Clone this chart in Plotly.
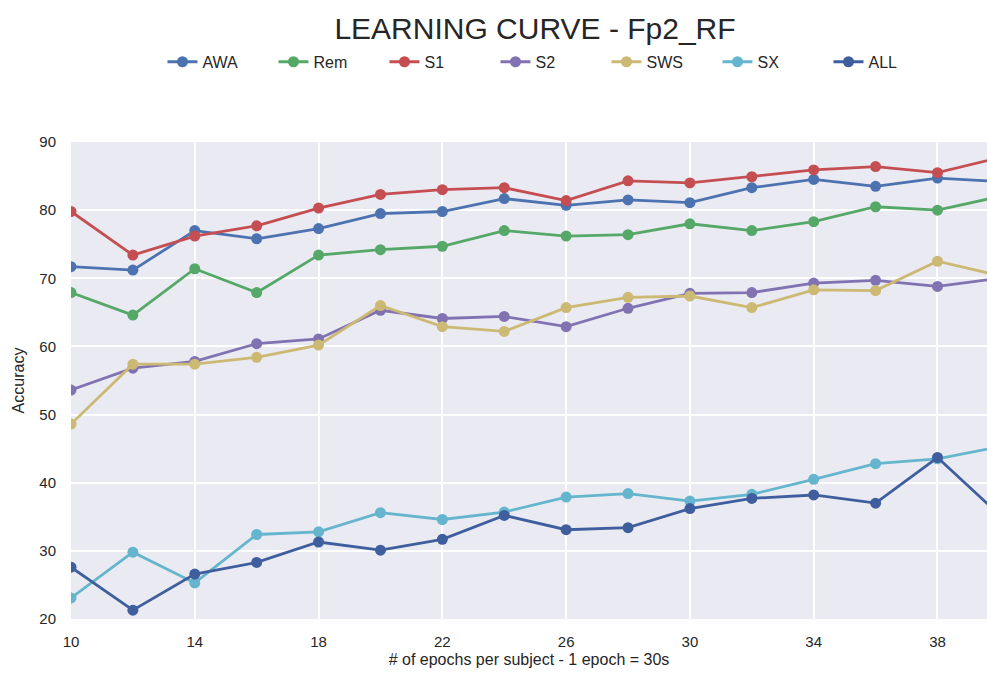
import plotly.graph_objects as go

epochs = [10, 12, 14, 16, 18, 20, 22, 24, 26, 28, 30, 32, 34, 36, 38, 40]

awa = [71.7, 71.2, 77.0, 75.8, 77.3, 79.5, 79.8, 81.7, 80.7, 81.5, 81.1, 83.3, 84.5, 83.5, 84.7, 84.2]
rem = [67.9, 64.6, 71.4, 67.9, 73.4, 74.2, 74.7, 77.0, 76.2, 76.4, 78.0, 77.0, 78.3, 80.5, 80.0, 82.0]
s1 = [79.8, 73.4, 76.2, 77.7, 80.3, 82.3, 83.0, 83.3, 81.4, 84.3, 84.0, 84.9, 85.9, 86.4, 85.5, 87.7]
s2 = [53.6, 56.8, 57.8, 60.4, 61.1, 65.3, 64.1, 64.4, 62.9, 65.6, 67.8, 67.9, 69.3, 69.7, 68.8, 70.0]
sws = [48.6, 57.4, 57.4, 58.4, 60.2, 66.0, 62.9, 62.2, 65.7, 67.2, 67.4, 65.7, 68.3, 68.2, 72.5, 70.4]
sx = [23.1, 29.8, 25.3, 32.4, 32.8, 35.6, 34.6, 35.7, 37.9, 38.4, 37.3, 38.3, 40.5, 42.8, 43.5, 45.3]
all_ = [27.6, 21.3, 26.6, 28.3, 31.3, 30.1, 31.7, 35.2, 33.1, 33.4, 36.2, 37.7, 38.2, 37.0, 43.7, 35.3]

series_names = ["AWA", "Rem", "S1", "S2", "SWS", "SX", "ALL"]
series_values = [awa, rem, s1, s2, sws, sx, all_]
colors = ["#4C72B0", "#55A868", "#C44E52", "#8172B2", "#CCB974", "#64B5CD", "#3F5E9E"]

regular = "Liberation Sans, Arial, sans-serif"
txt = "#262626"

fig = go.Figure()
for name, vals, col in zip(series_names, series_values, colors):
    fig.add_trace(go.Scatter(
        x=epochs, y=vals, name=name, mode="lines+markers",
        line=dict(color=col, width=2.8),
        marker=dict(color=col, size=11),
    ))

fig.update_layout(
    width=987, height=676,
    margin=dict(l=71, r=0, t=142, b=57),
    paper_bgcolor="white",
    plot_bgcolor="#EAEAF2",
    title=dict(text="LEARNING CURVE - Fp2_RF", x=535 / 987, xref="container", y=1 - 28 / 676,
               yanchor="middle", xanchor="center",
               font=dict(family=regular, size=30, color=txt)),
    legend=dict(orientation="h", x=0.524, xanchor="center", y=1.168, yanchor="middle",
                font=dict(family=regular, size=16, color=txt),
                entrywidth=66, entrywidthmode="pixels", bgcolor="rgba(0,0,0,0)"),
    showlegend=True,
)
fig.update_xaxes(
    range=[10, 39.6], tick0=10, dtick=4, showgrid=True, gridcolor="white", gridwidth=1.5,
    zeroline=False, showline=False, ticks="", ticklabelstandoff=12,
    tickfont=dict(family=regular, size=15, color=txt),
    title=dict(text="# of epochs per subject - 1 epoch = 30s", standoff=4,
               font=dict(family=regular, size=16, color=txt)),
    automargin=False,
)
fig.update_yaxes(
    range=[20, 90], dtick=10, showgrid=True, gridcolor="white", gridwidth=1.5,
    zeroline=False, showline=False, ticks="", ticklabelstandoff=14,
    tickfont=dict(family=regular, size=15, color=txt),
    title=dict(text="Accuracy", standoff=10,
               font=dict(family=regular, size=16, color=txt)),
    automargin=False,
)

fig.write_html("out.html", config={"displayModeBar": False},
               post_script="document.body.style.margin='0';")
